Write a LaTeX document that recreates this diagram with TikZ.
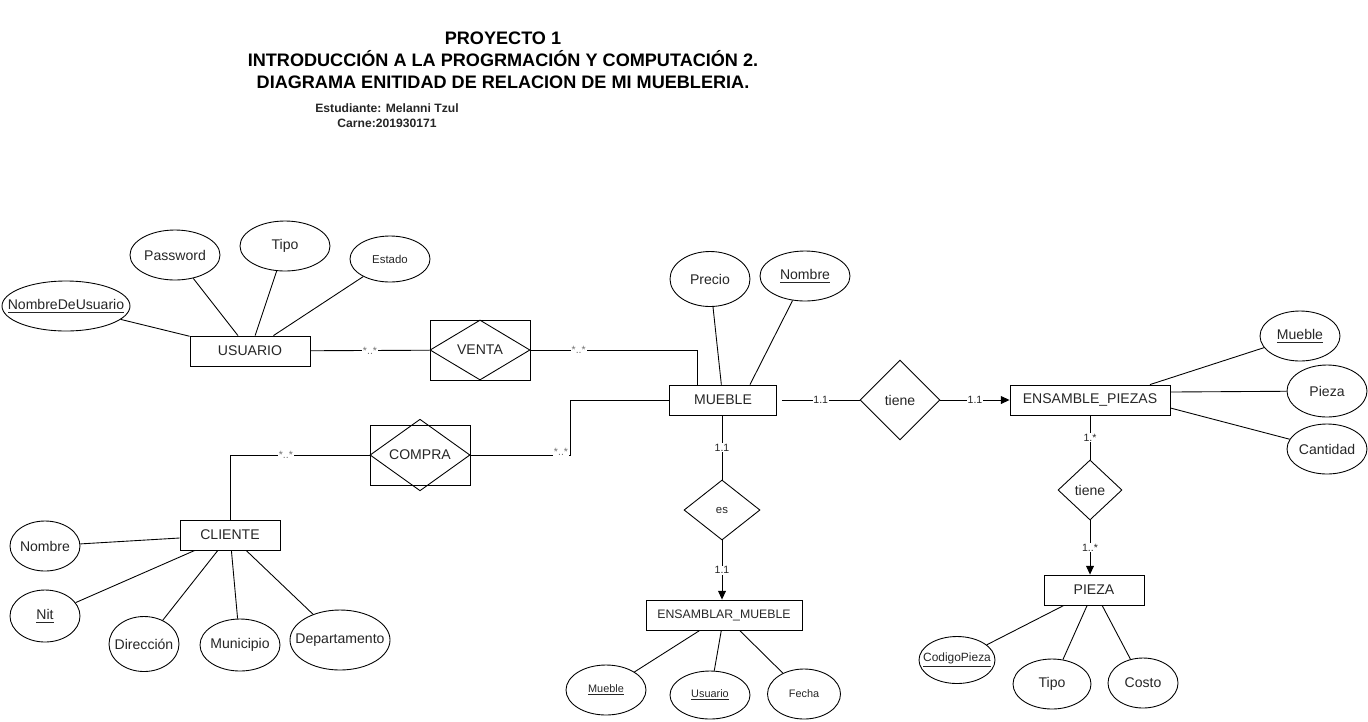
\documentclass[tikz,border=0pt]{standalone}
\usepackage{fontspec}
\setmainfont{Liberation Sans}
\usetikzlibrary{shapes.geometric, arrows.meta, calc}

\def\px{0.02cm}
\newcommand{\fs}[1]{\fontsize{#1}{#1}\selectfont}
\newcommand{\nw}[1]{\makebox[0pt]{#1}}

\begin{document}
\begin{tikzpicture}[x=0.02cm, y=-0.02cm, line width=0.5pt, >={Triangle[length=5pt,width=4.5pt]},
    every node/.style={font=\fs{8}, text=black!85, inner sep=1pt},
    entity/.style={draw, rectangle, minimum width=#1*\px, minimum height=30*\px},
    attr/.style 2 args={draw, ellipse, minimum width=#1*\px, minimum height=#2*\px, inner sep=0pt},
    rel/.style 2 args={draw, diamond, minimum width=#1*\px, minimum height=#2*\px, inner sep=0pt},
    wbox/.style={draw, rectangle, minimum width=100*\px, minimum height=60*\px},
    card/.style={fill=white, font=\fs{6}, inner sep=0.5pt},
    mcard/.style={fill=white, font=\fs{6}, text=black!55, inner sep=0.5pt}]

    \useasboundingbox (0,0) rectangle (1368,721);

    % Title
    \node[font=\bfseries\fs{10.3}, align=center, text=black, inner sep=0pt] (title) at (503,60)
      {PROYECTO 1\\[2.1pt]INTRODUCCIÓN A LA PROGRMACIÓN Y COMPUTACIÓN 2.\\[2.1pt]DIAGRAMA ENITIDAD DE RELACION DE MI MUEBLERIA.};
    \node[font=\bfseries\fs{6.9}, align=center, text=black!85, inner sep=0pt] (autor) at (387,116)
      {Estudiante: Melanni Tzul\\[1.6pt]Carne:201930171};

    % USUARIO
    \node[entity=120] (usuario) at (250,351) {USUARIO};
    \node[attr={128}{50}] (nomusuario) at (66,306) {\nw{\underline{NombreDeUsuario}}};
    \node[attr={90}{50}] (password) at (175,255) {\nw{Password}};
    \node[attr={90}{50}] (tipousuario) at (285,246) {\nw{Tipo}};
    \node[attr={80}{46}, font=\fs{6.5}] (estado) at (390,259) {\nw{Estado}};
    \foreach \a in {nomusuario, password, tipousuario, estado}
      \draw (\a) -- (usuario);

    % VENTA
    \node[wbox] (venta) at (480,350) {};
    \node[rel={100}{60}] (ventarel) at (480,350) {VENTA};

    % MUEBLE
    \node[entity=107] (mueble) at (723,400) {MUEBLE};
    \node[attr={80}{55}] (precio) at (710,279) {\nw{Precio}};
    \node[attr={90}{50}] (nombremueble) at (805,276) {\nw{\underline{Nombre}}};
    \draw (precio) -- (mueble);
    \draw (nombremueble) -- ([xshift=27*\px]mueble.north);

    \coordinate (v1) at (697,350);
    \draw (usuario) -- node[mcard]{*..*} (venta);
    \draw (venta) -- node[mcard, pos=0.29]{*..*} (v1) -- (v1 |- mueble.north);

    % tiene (MUEBLE - ENSAMBLE_PIEZAS)
    \node[rel={80}{80}] (tiene1) at (900,400) {tiene};
    \node[entity=160] (ensamble) at (1090,400) {ENSAMBLE\_PIEZAS};
    \draw ([xshift=5*\px]mueble.east) -- node[card]{1.1} (tiene1);
    \draw[->] (tiene1) -- node[card]{1.1} (ensamble);

    \node[attr={80}{50}] (muebleep) at (1300,336) {\nw{\underline{Mueble}}};
    \node[attr={80}{52}] (piezaep) at (1327,391) {\nw{Pieza}};
    \node[attr={80}{50}] (cantidad) at (1327,449) {\nw{Cantidad}};
    \draw (muebleep) -- ([xshift=60*\px]ensamble.north);
    \draw (piezaep) -- ([yshift=8*\px]ensamble.east);
    \draw (cantidad) -- ([yshift=-8*\px]ensamble.east);

    % tiene (ENSAMBLE_PIEZAS - PIEZA)
    \node[rel={64}{60}] (tiene2) at (1090,490) {tiene};
    \node[entity=100] (pieza) at (1094,590) {PIEZA};
    \draw (ensamble) -- node[card]{1.*} (tiene2);
    \draw[->] (tiene2.south) -- node[card]{1..*} (tiene2.south |- pieza.north);

    \node[attr={76}{47}, font=\fs{6.8}] (codigo) at (957,660) {\nw{\underline{CodigoPieza}}};
    \node[attr={78}{50}] (tipopieza) at (1052,684) {\nw{Tipo}};
    \node[attr={70}{50}] (costo) at (1143,683) {\nw{Costo}};
    \foreach \a in {codigo, tipopieza, costo}
      \draw (\a) -- (pieza);

    % COMPRA
    \node[wbox] (compra) at (420,455) {};
    \node[rel={100}{50}] (comprarel) at (420,455) {COMPRA};
    \node[entity=100] (cliente) at (230,535) {CLIENTE};
    \coordinate (c1) at (570,400);
    \coordinate (c2) at (570,455);
    \draw (mueble) -- (c1) -- (c2) -- (compra);
    \node[mcard] (compracard) at (561,452) {*..*};
    \draw (compra) -| node[mcard, pos=0.3]{*..*} (cliente);

    % CLIENTE
    \node[attr={70}{50}] (nombrecliente) at (45,546) {\nw{Nombre}};
    \node[attr={70}{52}] (nit) at (45,616) {\nw{\underline{Nit}}};
    \node[attr={70}{55}] (direccion) at (144,644) {\nw{Dirección}};
    \node[attr={80}{52}] (municipio) at (240,645) {\nw{Municipio}};
    \node[attr={100}{60}] (departamento) at (340,640) {\nw{Departamento}};
    \foreach \a in {nombrecliente, nit, direccion, municipio, departamento}
      \draw (\a) -- (cliente);

    % es (MUEBLE - ENSAMBLAR_MUEBLE)
    \node[rel={76}{60}, font=\fs{6.5}] (es) at (722,510) {es};
    \node[entity=156] (ensamblar) at (724,615) {\fs{7}ENSAMBLAR\_MUEBLE};
    \draw (mueble.south -| es) -- node[card]{1.1} (es);
    \draw[->] (es) -- node[card]{1.1} (es |- ensamblar.north);

    \node[attr={80}{50}, font=\fs{6.2}] (muebleea) at (606,690) {\nw{\underline{Mueble}}};
    \node[attr={80}{48}, font=\fs{6.2}] (usuarioea) at (710,695) {\nw{\underline{Usuario}}};
    \node[attr={73}{50}, font=\fs{6.2}] (fecha) at (804,694) {\nw{Fecha}};
    \foreach \a in {muebleea, usuarioea, fecha}
      \draw (\a) -- (ensamblar);

\end{tikzpicture}
\end{document}
